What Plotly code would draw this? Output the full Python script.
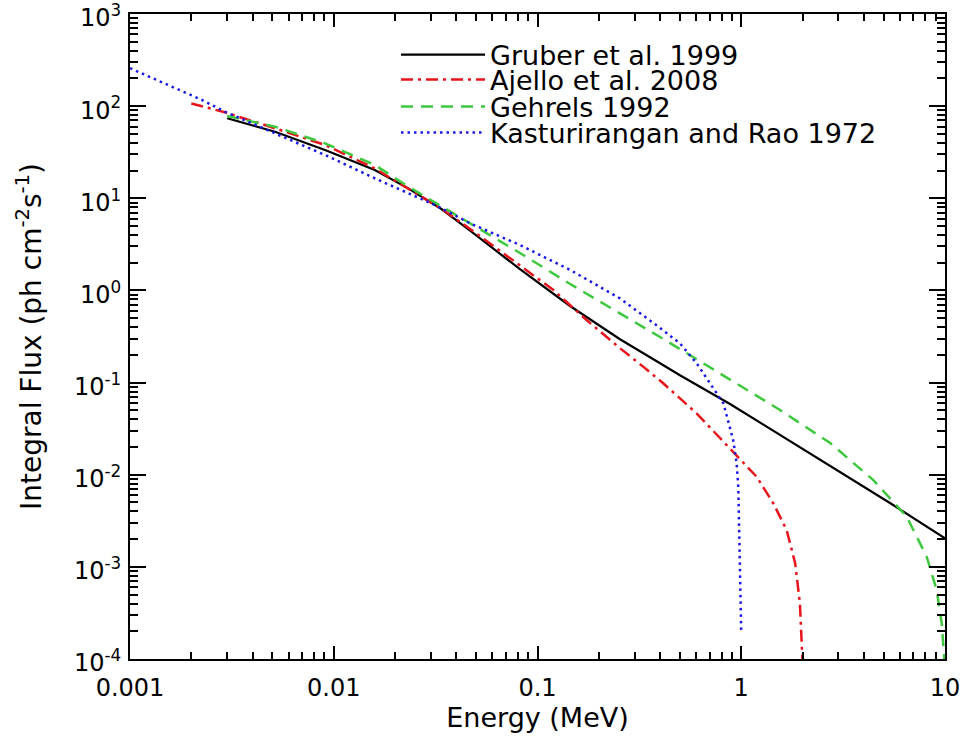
import plotly.graph_objects as go

# ---- data (Energy in MeV, integral flux ph cm^-2 s^-1) ----
gruber_E = [0.003, 0.00515, 0.00906, 0.0159, 0.0232, 0.0339, 0.0467, 0.082, 0.1445,
            0.254, 0.392, 0.5, 0.881, 1.549, 2.729, 5.37, 10.0]
gruber_F = [73.8, 52.8, 33.4, 20.3, 12.8, 7.6, 4.45, 1.7, 0.678,
            0.295, 0.166, 0.12, 0.0586, 0.027, 0.01245, 0.00493, 0.00204]

ajello_E = [0.002, 0.00292, 0.00515, 0.00906, 0.0159, 0.0232, 0.0339, 0.0467, 0.082,
            0.1197, 0.1742, 0.254, 0.33, 0.414, 0.604, 0.881, 1.19, 1.436, 1.67,
            1.84, 1.94, 2.0]
ajello_F = [107, 85.7, 57.5, 37.9, 21.1, 12.8, 7.65, 4.65, 1.89,
            1.01, 0.477, 0.236, 0.149, 0.0982, 0.0463, 0.0193, 0.00951, 0.0049, 0.00251,
            0.00109, 0.000402, 0.00009]

gehrels_E = [0.003, 0.00515, 0.00906, 0.0159, 0.0232, 0.0373, 0.0564, 0.082, 0.1445,
             0.254, 0.392, 0.5, 0.881, 1.549, 2.729, 4.45, 6.49, 8.13, 9.10, 9.64, 10.0]
gehrels_F = [78.2, 59.8, 39.5, 23.0, 13.4, 7.15, 4.2, 2.55, 1.175,
             0.569, 0.32, 0.231, 0.1067, 0.0504, 0.0221, 0.00875, 0.0035, 0.00129,
             0.000561, 0.000244, 0.00008]

kast_E = [0.001, 0.00166, 0.00225, 0.00292, 0.00495, 0.00906, 0.01656, 0.0314, 0.0467,
          0.082, 0.1445, 0.254, 0.392, 0.5, 0.604, 0.703, 0.817, 0.913, 0.949, 0.967,
          0.978, 1.0]
kast_F = [258, 156, 117, 87.1, 52.8, 29.5, 15.8, 8.45, 5.35,
          3.11, 1.67, 0.82, 0.404, 0.267, 0.162, 0.0982, 0.0596, 0.0238, 0.0133, 0.00741,
          0.00251, 0.00019]

names = ["Gruber et al. 1999", "Ajello et al. 2008", "Gehrels 1992",
         "Kasturirangan and Rao 1972"]

x_tickvals = [0.001, 0.01, 0.1, 1, 10]
x_ticktext = ["0.001", "0.01", "0.1", "1", "10"]
y_exponents = [-4, -3, -2, -1, 0, 1, 2, 3]

FONT = "DejaVu Sans"

series = [
    (gruber_E, gruber_F, dict(color="black", width=2.2), "legend"),
    (ajello_E, ajello_F, dict(color="#e8141b", width=2.5, dash="12px,5px,3px,5px"), "legend2"),
    (gehrels_E, gehrels_F, dict(color="#3ec83e", width=2.5, dash="12px,8px"), "legend3"),
    (kast_E, kast_F, dict(color="#1a1ae6", width=2.5, dash="2.5px,4px"), "legend4"),
]

fig = go.Figure()
for (xs, ys, ln, lg), nm in zip(series, names):
    fig.add_trace(go.Scatter(x=xs, y=ys, mode="lines", name=nm, line=ln, legend=lg))

# empty trace that carries the mirrored (top / right) tick axes
fig.add_trace(go.Scatter(x=[], y=[], xaxis="x2", yaxis="y2", showlegend=False,
                         hoverinfo="skip"))

y_tickvals = [10.0 ** e for e in y_exponents]
y_ticktext = ["10<sup>%d</sup>" % e for e in y_exponents]
y_minor = [m * 10.0 ** e for e in y_exponents[:-1] for m in range(2, 10)]
x_minor = [m * 10.0 ** e for e in range(-3, 1) for m in range(2, 10)]

tick_common = dict(showgrid=False, zeroline=False, ticks="inside", tickwidth=1.5,
                   tickcolor="black")

xaxis = dict(type="log", range=[-3, 1], showline=True, linecolor="black", linewidth=2,
             mirror=True, ticklen=13, tickvals=x_tickvals, ticktext=x_ticktext,
             ticklabelstandoff=6, ticklabeloverflow="allow",
             minor=dict(ticks="inside", ticklen=7, tickwidth=1.5, tickcolor="black",
                        tickvals=x_minor, showgrid=False),
             tickfont=dict(family=FONT, size=24, color="black"),
             title=dict(text="Energy (MeV)", standoff=6,
                        font=dict(family=FONT, size=27, color="black")),
             **tick_common)
xaxis2 = dict(type="log", range=[-3, 1], overlaying="x", side="top", anchor="y",
              showline=False, ticklen=13, tickvals=x_tickvals, showticklabels=False,
              minor=dict(ticks="inside", ticklen=7, tickwidth=1.5, tickcolor="black",
                         tickvals=x_minor, showgrid=False),
              **tick_common)
yaxis = dict(type="log", range=[-4, 3], showline=True, linecolor="black", linewidth=2,
             mirror=True, ticklen=16, tickvals=y_tickvals, ticktext=y_ticktext,
             ticklabelstandoff=2, ticklabeloverflow="allow", ticklabelshift=4,
             minor=dict(ticks="inside", ticklen=8, tickwidth=1.5, tickcolor="black",
                        tickvals=y_minor, showgrid=False),
             tickfont=dict(family=FONT, size=24, color="black"),
             title=dict(text="Integral Flux (ph cm<sup>-2</sup>s<sup>-1</sup>)",
                        standoff=24,
                        font=dict(family=FONT, size=28, color="black")),
             **tick_common)
yaxis2 = dict(type="log", range=[-4, 3], overlaying="y", side="right", anchor="x",
              showline=False, ticklen=16, tickvals=y_tickvals, showticklabels=False,
              minor=dict(ticks="inside", ticklen=8, tickwidth=1.5, tickcolor="black",
                         tickvals=y_minor, showgrid=False),
              **tick_common)

legend_font = dict(family=FONT, size=27, color="black")
leg_common = dict(x=0.3264, xanchor="left", yanchor="middle", bgcolor="rgba(0,0,0,0)",
                  borderwidth=0, itemwidth=84, font=legend_font)

fig.update_layout(
    width=962, height=741,
    margin=dict(l=130, r=17, t=14, b=82, autoexpand=False),
    paper_bgcolor="white", plot_bgcolor="white",
    font=dict(family=FONT, color="black"),
    xaxis=xaxis, xaxis2=xaxis2, yaxis=yaxis, yaxis2=yaxis2,
    legend=dict(y=0.9364, **leg_common),
    legend2=dict(y=0.8977, **leg_common),
    legend3=dict(y=0.8558, **leg_common),
    legend4=dict(y=0.8155, **leg_common),
    showlegend=True,
)

# remove the default 8px page margin so the figure fills the window exactly
fig.write_html("out.html", config={"displayModeBar": False},
               post_script="document.body.style.margin='0';document.body.style.padding='0';")
